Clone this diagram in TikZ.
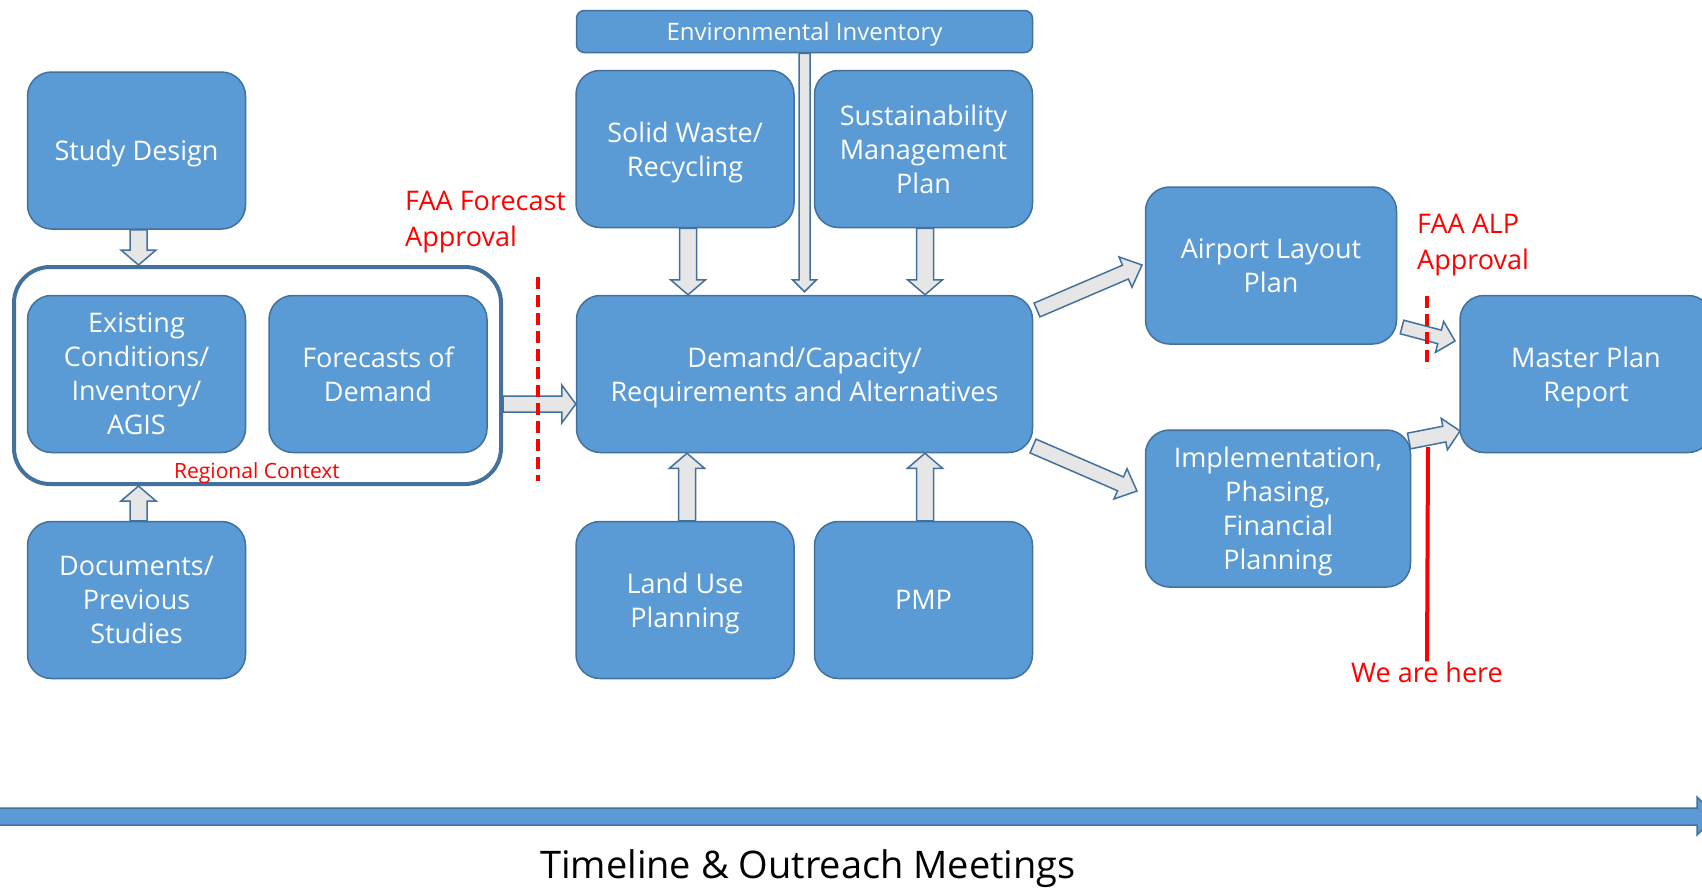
\documentclass[tikz,border=0pt]{standalone}
\usepackage{fontspec}
\setmainfont{Open Sans}
\usetikzlibrary{calc}
\definecolor{boxblue}{HTML}{5B9BD5}
\definecolor{edgeblue}{HTML}{41719C}
\definecolor{arrowgray}{HTML}{E7E6E6}
% block arrow: start, tip, half shaft, half head, head length
\newcommand{\fatarrow}[5]{%
  \coordinate (fa) at ($(#2)!#5!(#1)$);
  \draw[fat] ($(#1)!#3!90:(#2)$) -- ($(fa)!#3!90:(#2)$) -- ($(fa)!#4!90:(#2)$) -- (#2)
    -- ($(fa)!#4!-90:(#2)$) -- ($(fa)!#3!-90:(#2)$) -- ($(#1)!#3!-90:(#2)$) -- cycle;}
\begin{document}
\begin{tikzpicture}[x=1pt,y=-1pt,
  box/.style={draw=edgeblue, line width=1.5pt, fill=boxblue, rounded corners=24pt, text=white, align=center, inner sep=0pt, text depth=0pt, minimum width=218pt, minimum height=157pt, font=\fontsize{27}{34}\selectfont},
  fat/.style={draw=edgeblue, line width=1.5pt, fill=arrowgray, line join=miter},
  note/.style={text=red, inner sep=0pt, font=\fontsize{27}{36}\selectfont},
  cut/.style={red, line width=4pt, dash pattern=on 12pt off 6pt}]
\useasboundingbox[fill=white] (0,0) rectangle (1702,887);
\node[draw=edgeblue, line width=4pt, rounded corners=36pt, minimum width=487pt, minimum height=217pt] (region) at (257.5,375.5){};
\node[note, font=\fontsize{21}{26}\selectfont] (regional) at (257,473){Regional Context};
\node[box] (study) at (136.5,150.5){Study Design};
\node[box] (existing) at (136.5,374){Existing\\Conditions/\\Inventory/\\AGIS};
\node[box] (forecast) at (378,374){Forecasts of\\Demand};
\node[box] (documents) at (136.5,600){Documents/\\Previous\\Studies};
\node[box, minimum width=456pt, minimum height=42pt, rounded corners=8pt, font=\fontsize{24}{30}\selectfont] (env) at (804.5,31.5){Environmental Inventory};
\node[box] (waste) at (685,149){Solid Waste/\\Recycling};
\node[box] (sustain) at (923.5,149){Sustainability\\Management\\Plan};
\node[box, minimum width=456pt] (demand) at (804.5,374){Demand/Capacity/\\Requirements and Alternatives};
\node[box] (landuse) at (685,600){Land Use\\Planning};
\node[box] (pmp) at (923.5,600){PMP};
\node[box, minimum width=251pt] (alp) at (1271,265.5){Airport Layout\\Plan};
\node[box, minimum width=265pt] (implement) at (1278,508.5){Implementation,\\Phasing,\\Financial\\Planning};
\node[box, minimum width=252pt] (master) at (1586,374){Master Plan\\Report};
\node[note, align=left, anchor=west] (faafc) at (405,222){FAA Forecast\\Approval};
\node[note, align=left, anchor=west] (faaalp) at (1417,245){FAA ALP\\Approval};
\node[note] (here) at (1427,672){We are here};
\node[inner sep=0pt, font=\fontsize{38}{46}\selectfont] (timeline) at (808,869){Timeline \& Outreach Meetings};
\coordinate (sd-a) at ([xshift=2pt]study.south);
\coordinate (sd-b) at (sd-a |- region.north);
\coordinate (doc-a) at ([xshift=2pt]documents.north);
\coordinate (doc-b) at (doc-a |- region.south);
\coordinate (fc-a) at (region.east |- 0,404);
\coordinate (fc-b) at (demand.west |- 0,404);
\coordinate (sw-a) at ([xshift=3pt]waste.south);
\coordinate (sw-b) at (sw-a |- demand.north);
\coordinate (env-a) at (env.south);
\coordinate (env-b) at ([yshift=3pt]env-a |- demand.north);
\coordinate (sm-a) at ([xshift=1.5pt]sustain.south);
\coordinate (sm-b) at (sm-a |- demand.north);
\coordinate (lu-a) at ([xshift=2pt]landuse.north);
\coordinate (lu-b) at (lu-a |- demand.south);
\coordinate (pmp-a) at ([xshift=1.5pt]pmp.north);
\coordinate (pmp-b) at (pmp-a |- demand.south);
\coordinate (alp-a) at (1037,310);
\coordinate (alp-b) at (1142,265);
\coordinate (imp-a) at (1033,446);
\coordinate (imp-b) at (1137,491);
\coordinate (mp1-a) at (1402,327);
\coordinate (mp1-b) at (1455,341);
\coordinate (mp2-a) at (1409,441);
\coordinate (mp2-b) at (1460,431);
\fatarrow{sd-a}{sd-b}{8.5pt}{17.5pt}{15pt}
\fatarrow{doc-a}{doc-b}{8.5pt}{17.5pt}{15pt}
\fatarrow{fc-a}{fc-b}{8pt}{19pt}{14pt}
\fatarrow{sw-a}{sw-b}{8.5pt}{17.5pt}{15pt}
\fatarrow{env-a}{env-b}{5.5pt}{12pt}{12pt}
\fatarrow{sm-a}{sm-b}{8.5pt}{17.5pt}{15pt}
\fatarrow{lu-a}{lu-b}{8.5pt}{17.5pt}{15pt}
\fatarrow{pmp-a}{pmp-b}{8.5pt}{17.5pt}{15pt}
\fatarrow{alp-a}{alp-b}{7.5pt}{16.5pt}{18pt}
\fatarrow{imp-a}{imp-b}{7.5pt}{16.5pt}{18pt}
\fatarrow{mp1-a}{mp1-b}{7pt}{16pt}{16pt}
\fatarrow{mp2-a}{mp2-b}{8pt}{16pt}{16pt}
\coordinate (fcut-a) at (538,277);
\coordinate (fcut-b) at (538,481);
\coordinate (acut-a) at (1427,296);
\coordinate (acut-b) at (1427,368);
\coordinate (now-a) at (1428,447);
\draw[cut] (fcut-a) -- (fcut-b);
\draw[cut] (acut-a) -- (acut-b);
\draw[red, line width=4pt] (now-a) -- (here.north);
\draw[draw=edgeblue, fill=boxblue, line width=1.5pt] (-5,808) -- (1697,808) -- (1697,797) -- (1716,816) -- (1697,835) -- (1697,825) -- (-5,825) -- cycle;
\end{tikzpicture}
\end{document}
